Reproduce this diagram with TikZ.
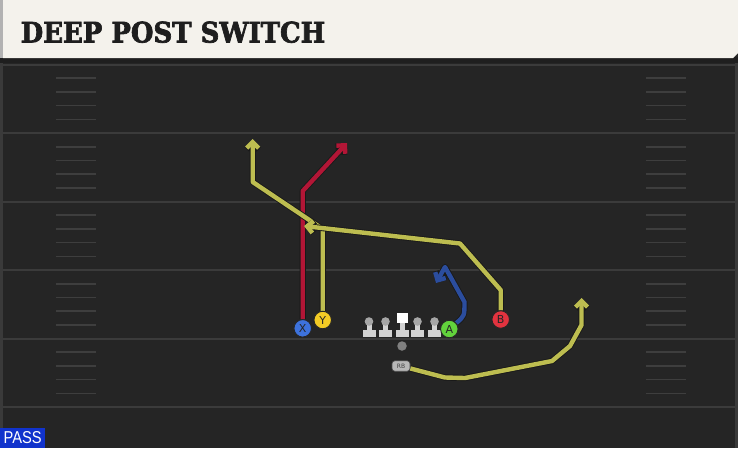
\documentclass[tikz,border=0pt]{standalone}
\usepackage{fontspec}
\setmainfont{DejaVu Sans}
\newfontfamily\titlefont[FakeBold=2.5]{DejaVu Serif}
\newfontfamily\passfont{Liberation Sans}
\usetikzlibrary{arrows.meta}
\definecolor{fieldc}{HTML}{252525}
\definecolor{edgec}{HTML}{3A3A3A}
\definecolor{bannerc}{HTML}{F4F2EC}
\definecolor{yardc}{HTML}{3B3B3B}
\definecolor{hashc}{HTML}{3E3E3E}
\definecolor{titlec}{HTML}{1E1E1E}
\definecolor{xblue}{HTML}{3D72DC}
\definecolor{yyellow}{HTML}{F3CB25}
\definecolor{agreen}{HTML}{62D23C}
\definecolor{bred}{HTML}{E2333F}
\definecolor{rred}{HTML}{B21636}
\definecolor{ryellow}{HTML}{BDBD50}
\definecolor{rblue}{HTML}{2B4D9E}
\definecolor{linec}{HTML}{D2D2D2}
\definecolor{headc}{HTML}{A6A6A6}
\definecolor{passblue}{HTML}{1133CC}
\pgfdeclarelayer{back}
\pgfdeclarelayer{routes}
\pgfsetlayers{back,routes,main}
\tikzset{
  player/.style={circle, draw=black!85, line width=0.9pt, minimum size=17.5pt, inner sep=0pt,
    font=\fontsize{11}{11}\selectfont, text=black!85},
  routeout/.style={draw=black!90, line width=6.2pt, line join=round},
  routein/.style={line width=4.4pt, line join=round},
  routetip/.style={-{Straight Barb[length=6pt,width=12pt]}},
  yardline/.style={draw=yardc, line width=2pt},
  hashmark/.style={draw=hashc, line width=1.6pt},
  rbbox/.style={rounded corners=3pt, fill=headc!80!white, draw=black!70, line width=0.6pt,
    minimum width=18pt, minimum height=10.5pt, inner sep=0pt,
    font=\fontsize{6}{6}\selectfont, text=black!75}
}
\newcommand\playroute[2]{\draw[routeout,routetip] #2; \draw[routein,routetip,draw=#1] #2;}
\newcommand\lineman[2]{%
  \fill[linec] (#2-6.5,330) rectangle (#2+6.5,336.5);
  \fill[linec] (#2-2.5,322) rectangle (#2+2.5,331);
  \fill[headc] (#2,321.5) circle (4.3);
  \coordinate (#1) at (#2,328);}
\begin{document}
\begin{tikzpicture}[x=1pt,y=-1pt]
\useasboundingbox (0,0) rectangle (738,448);
\begin{pgfonlayer}{back}
  \fill[fieldc] (0,0) rectangle (738,448);
  \fill[edgec] (0,58) rectangle (3,448);
  \fill[edgec] (735,58) rectangle (738,448);
  \fill[black!88] (0,57) rectangle (738,63);
  \fill[bannerc] (3,0) -- (738,0) -- (738,53) -- (733,58) -- (3,58) -- cycle;
  \fill[gray!60] (0,0) rectangle (3,58);
  \foreach \yy in {64.5,133,201.5,270,338.5,407}
    \draw[yardline] (3,\yy) -- (735,\yy);
  \foreach \yy in {64.5,133,201.5,270,338.5}
    \foreach \i in {1,...,4} {
      \draw[hashmark] (56,\yy+13.7*\i) -- (96,\yy+13.7*\i);
      \draw[hashmark] (646,\yy+13.7*\i) -- (686,\yy+13.7*\i);
    }
\end{pgfonlayer}

\node[anchor=base west, inner sep=0pt, text=titlec] (title) at (20.5,42.5)
  {\resizebox{304.5pt}{21pt}{\titlefont\bfseries DEEP POST SWITCH}};

% linemen
\lineman{L1}{369}
\lineman{L2}{385.5}
\fill[linec] (396,330) rectangle (409,336.5);
\fill[linec] (400,322) rectangle (405,331);
\node[fill=white, minimum size=10.5pt, inner sep=0pt] (C) at (402.5,318) {};
\lineman{L4}{417.5}
\lineman{L5}{434.5}

\node[circle, fill=black!50, minimum size=9.5pt, inner sep=0pt] (ball) at (402,346) {};
\node[rbbox] (RB) at (401,366) {RB};

% players
\node[player, fill=xblue] (X) at (302.7,328.3) {X};
\node[player, fill=yyellow] (Y) at (322.7,320) {Y};
\node[player, fill=agreen] (A) at (449.3,329) {A};
\node[player, fill=bred] (B) at (500.7,319.5) {B};

% route waypoints
\coordinate (x1) at (302.7,191);
\coordinate (x2) at (347,143);
\coordinate (y1) at (322.7,229);
\coordinate (y2) at (252.7,182);
\coordinate (y3) at (252.7,139);
\coordinate (b1) at (500.7,290);
\coordinate (b2) at (460,243.5);
\coordinate (b3) at (304,226);
\coordinate (a1) at (464.5,302);
\coordinate (a2) at (445,267);
\coordinate (a3) at (436,283);
\coordinate (r1) at (445,377.5);
\coordinate (r2) at (465,378);
\coordinate (r3) at (552,361);
\coordinate (r4) at (570,346);
\coordinate (r5) at (581.5,325);
\coordinate (r6) at (581.5,298);

\begin{pgfonlayer}{routes}
  \playroute{rred}{(X) -- (x1) -- (x2)}
  \playroute{ryellow}{(Y) -- (y1) -- (y2) -- (y3)}
  \playroute{ryellow}{(B) -- (b1) -- (b2) -- (b3)}
  \playroute{rblue}{(A) .. controls (464.5,316) .. (a1) -- (a2) -- (a3)}
  \playroute{ryellow}{(RB) -- (r1) -- (r2) -- (r3) -- (r4) -- (r5) -- (r6)}
\end{pgfonlayer}

\node[fill=passblue, text=white, anchor=south west, minimum width=45pt, minimum height=20pt,
  inner sep=0pt] (pass) at (0,448) {\resizebox{38pt}{12pt}{\passfont PASS}};
\end{tikzpicture}
\end{document}
